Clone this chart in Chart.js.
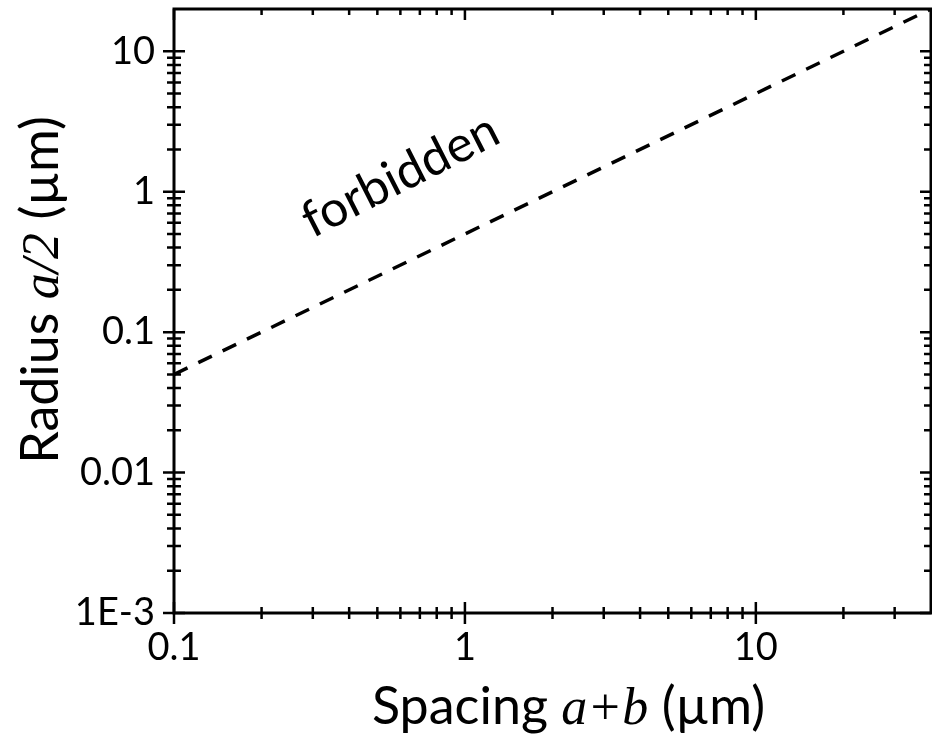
<!DOCTYPE html>
<html>
<head>
<meta charset="utf-8">
<script src="https://cdn.jsdelivr.net/npm/chart.js@4/dist/chart.umd.min.js"></script>
<style>
  html, body { margin: 0; padding: 0; background: #fff; }
  #wrap { width: 932px; height: 737px; }
</style>
</head>
<body>
<div id="wrap"><canvas id="c" width="932" height="737"></canvas></div>
<script>
// Boundary line: radius a/2 equals half the spacing a+b
const spacing = [0.1, 1, 10, 40];
const radius = [0.05, 0.5, 5, 20];

// Axis ticks
const xMajor = [0.1, 1, 10];
const xTickLabels = ['0.1', '1', '10'];
const xMinor = [0.2, 0.3, 0.4, 0.5, 0.6, 0.7, 0.8, 0.9, 2, 3, 4, 5, 6, 7, 8, 9, 20, 30];
const yMajor = [0.001, 0.01, 0.1, 1, 10];
const yTickLabels = ['1E-3', '0.01', '0.1', '1', '10'];
const yMinor = [
  0.002, 0.003, 0.004, 0.005, 0.006, 0.007, 0.008, 0.009,
  0.02, 0.03, 0.04, 0.05, 0.06, 0.07, 0.08, 0.09,
  0.2, 0.3, 0.4, 0.5, 0.6, 0.7, 0.8, 0.9,
  2, 3, 4, 5, 6, 7, 8, 9
];

// Region label and where it sits (data coordinates)
const regionLabel = 'forbidden';
const regionLabelAt = { x: 0.6, y: 1.3 };

const LABEL_FONT = 'Lato, "Open Sans", sans-serif';
const TITLE_FONT = '52px ' + LABEL_FONT;
const SERIF_ITALIC = 'italic 52px "Liberation Serif", "DejaVu Serif", serif';

function drawRuns(ctx, runs) {
  let total = 0;
  runs.forEach(r => { ctx.font = r.font; r.w = ctx.measureText(r.text).width; total += r.w; });
  let x = -total / 2;
  ctx.textAlign = 'left';
  ctx.textBaseline = 'alphabetic';
  runs.forEach(r => { ctx.font = r.font; ctx.fillText(r.text, x, 0); x += r.w; });
}

const framePlugin = {
  id: 'frameAndTicks',
  afterDatasetsDraw(chart) {
    const { ctx, chartArea: a, scales } = chart;
    const xs = scales.x, ys = scales.y;
    ctx.save();
    ctx.strokeStyle = '#000';
    ctx.lineCap = 'butt';

    // tick marks: crossing on bottom/left, inward on top/right
    ctx.lineWidth = 2.5;
    const xTick = (v, len) => {
      const p = xs.getPixelForValue(v);
      ctx.beginPath();
      ctx.moveTo(p, a.bottom - len); ctx.lineTo(p, a.bottom + len);
      ctx.moveTo(p, a.top); ctx.lineTo(p, a.top + len);
      ctx.stroke();
    };
    const yTick = (v, len) => {
      const p = ys.getPixelForValue(v);
      ctx.beginPath();
      ctx.moveTo(a.left - len, p); ctx.lineTo(a.left + len, p);
      ctx.moveTo(a.right, p); ctx.lineTo(a.right - len, p);
      ctx.stroke();
    };
    xMinor.forEach(v => xTick(v, 6));
    xMajor.forEach(v => xTick(v, 11));
    yMinor.forEach(v => yTick(v, 7));
    yMajor.forEach(v => yTick(v, 11));

    // frame
    ctx.lineWidth = 3;
    ctx.strokeRect(a.left, a.top, a.right - a.left, a.bottom - a.top);

    // region label, aligned with the boundary line
    ctx.fillStyle = '#000';
    ctx.font = '50px ' + LABEL_FONT;
    ctx.textAlign = 'center';
    ctx.textBaseline = 'middle';
    ctx.translate(xs.getPixelForValue(regionLabelAt.x), ys.getPixelForValue(regionLabelAt.y));
    ctx.rotate(-27 * Math.PI / 180);
    ctx.fillText(regionLabel, 0, 0);
    ctx.restore();

    // axis titles with italic symbols
    ctx.save();
    ctx.fillStyle = '#000';
    ctx.translate((a.left + a.right) / 2 + 16, 724);
    drawRuns(ctx, [
      { text: 'Spacing ', font: TITLE_FONT },
      { text: 'a+b', font: SERIF_ITALIC },
      { text: ' (\u00B5m)', font: TITLE_FONT }
    ]);
    ctx.restore();

    ctx.save();
    ctx.fillStyle = '#000';
    ctx.translate(58, 290);
    ctx.rotate(-Math.PI / 2);
    drawRuns(ctx, [
      { text: 'Radius ', font: TITLE_FONT },
      { text: 'a/2', font: SERIF_ITALIC },
      { text: ' (\u00B5m)', font: TITLE_FONT }
    ]);
    ctx.restore();
  }
};

new Chart(document.getElementById('c'), {
  type: 'line',
  data: {
    datasets: [{
      data: spacing.map((s, i) => ({ x: s, y: radius[i] })),
      borderColor: '#000',
      borderWidth: 3.5,
      borderDash: [15, 12],
      pointRadius: 0,
      fill: false,
      tension: 0
    }]
  },
  options: {
    responsive: false,
    animation: false,
    devicePixelRatio: 1,
    layout: { padding: { top: 9, right: 1, left: 0, bottom: 0 } },
    plugins: { legend: { display: false }, tooltip: { enabled: false } },
    scales: {
      x: {
        type: 'logarithmic',
        min: 0.1, max: 40,
        afterBuildTicks: s => { s.ticks = xMajor.map(v => ({ value: v })); },
        afterFit: s => { s.height = 124; s.paddingLeft = 0; s.paddingRight = 0; },
        grid: { display: false, drawTicks: false, tickLength: 0 },
        border: { display: false },
        ticks: {
          autoSkip: false, maxRotation: 0, padding: 12,
          color: '#000',
          font: { family: LABEL_FONT, size: 38 },
          callback: v => xTickLabels[xMajor.indexOf(v)]
        }
      },
      y: {
        type: 'logarithmic',
        min: 0.001, max: 20,
        afterBuildTicks: s => { s.ticks = yMajor.map(v => ({ value: v })); },
        afterFit: s => { s.width = 174; s.paddingTop = 0; s.paddingBottom = 0; },
        grid: { display: false, drawTicks: false, tickLength: 0 },
        border: { display: false },
        ticks: {
          autoSkip: false, padding: 19,
          color: '#000',
          font: { family: LABEL_FONT, size: 38 },
          callback: v => yTickLabels[yMajor.indexOf(v)]
        }
      }
    }
  },
  plugins: [framePlugin]
});
</script>
</body>
</html>
